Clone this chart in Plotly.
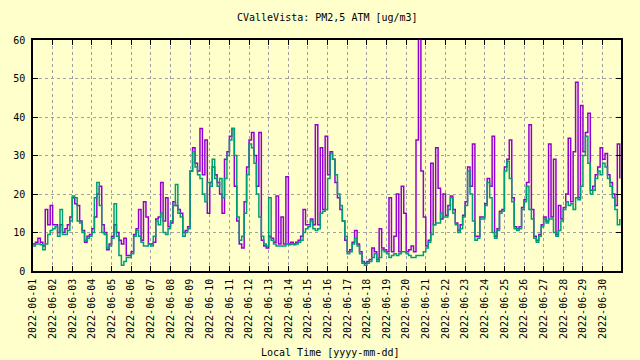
import pandas as pd
import plotly.graph_objects as go

title_text = "CValleVista: PM2,5 ATM [ug/m3]"
x_title = "Local Time [yyyy-mm-dd]"
start_time = "2022-06-01 00:00"
end_time = "2022-06-30 22:30"
sample_freq = "3h"

# Channel A (purple) — 3-hourly readings, one row per day (06-01 .. 06-30)
pm_a = [
    7, 7.5, 8.5, 7.5, 6.5, 16, 12, 17,
    12, 12, 10, 12, 10, 11, 12, 14,
    19, 17.5, 17, 13, 10.5, 7.5, 9, 9.5,
    11, 14, 20, 22, 12, 10, 5.5, 7,
    9, 12, 10, 8, 7, 8.5, 4, 4,
    5, 9.5, 11, 16, 8, 18, 14, 7,
    7, 7.5, 13.5, 14, 23, 13, 19, 11.5,
    12.5, 18, 17, 16, 15, 10, 10.5, 11.5,
    26, 32, 28, 26, 37, 25, 34, 15,
    23, 27, 25, 23, 20, 15, 29, 31,
    35, 37, 22, 13, 7, 6, 18, 27,
    34, 36, 30, 22, 36, 8, 6.5, 6,
    9, 8.5, 7.5, 19.5, 7, 14, 7, 24.5,
    7, 7.5, 7, 7.5, 8, 9, 16, 12,
    12, 13.5, 12, 38, 12, 32, 16, 35,
    25, 31, 29, 23, 19, 16, 13, 8,
    5, 5.5, 7.5, 10.5, 7, 5, 2.5, 2,
    2.5, 3, 6, 5, 3, 11, 6, 5.5,
    5, 19, 5, 9, 20, 5, 22, 15,
    5, 5.5, 6.5, 5, 34, 62, 26, 14,
    6.5, 8, 28, 12, 32, 21.5, 13.5, 20,
    14.5, 17, 19.5, 16, 12.5, 10.5, 12, 14.5,
    18, 27, 22, 33, 9, 9, 14, 14,
    17.5, 24, 22, 35, 9, 11, 15.5, 16,
    27, 29, 34, 19, 11.5, 11, 11.5, 16.5,
    18.5, 23, 38, 16, 9, 8, 9.5, 12,
    14, 13, 33, 14, 29, 9.5, 17, 13.5,
    16.5, 20, 34.5, 18, 31, 49, 19, 43,
    31, 36, 41, 21, 22, 25, 27, 32,
    29, 30.5, 25, 23, 20, 17, 33, 24,
]

# Channel B (teal) — 3-hourly readings, one row per day
pm_b = [
    6.5, 7, 7, 6.8, 5.5, 7, 9.5, 10.5,
    11, 11.5, 9, 16, 9.5, 9.5, 10.5, 13,
    19.5, 19, 13, 12.5, 10, 8, 8.5, 9,
    10, 19, 23, 17, 10, 9.5, 6, 6.5,
    8.5, 17.5, 9, 4, 1.5, 2.5, 3.5, 3.5,
    4.5, 9, 10.5, 9, 7.5, 6.5, 6.5, 7,
    6.5, 9, 13, 12, 15, 10, 9.5, 11,
    13, 17, 22.5, 15, 14, 9, 10, 11,
    26, 31, 27, 25, 24, 20, 18, 23,
    22, 29, 24, 22, 24, 19, 24, 30,
    34, 37, 30, 14, 8, 9, 15, 25,
    33, 32, 28, 20, 14, 9, 7, 6.5,
    19, 8, 7, 6.5, 6.5, 6.5, 6.5, 7,
    6.8, 7, 6.8, 7, 7.5, 8, 10, 11,
    11.5, 13, 11, 10.5, 11, 15, 15.5, 16,
    24, 30.5, 29, 25, 20, 17, 13, 9,
    4.5, 5, 7, 8.5, 6.5, 4.5, 2, 1.5,
    2, 2.5, 3.5, 4.5, 2.5, 3.5, 5.5, 5,
    4.5, 3.5, 4, 4.5, 4, 4.5, 5, 5,
    4.5, 4, 3.5, 3.5, 4, 4, 4, 5,
    6, 7.5, 9.5, 12, 12.5, 12.5, 15, 14,
    14, 16, 19, 15, 12, 10, 11, 14,
    17, 26, 20, 13, 8, 8.5, 13.5, 13.5,
    17, 23, 19, 10, 8.5, 10.5, 15, 15.5,
    26, 28.5, 24, 18, 11, 10.5, 11, 16,
    18, 22, 16, 13.5, 8.5, 7.5, 9, 11.5,
    13.5, 12.5, 13.5, 13.5, 10, 9, 10.5, 13,
    16, 18, 17, 17.5, 16, 19, 18.5, 22,
    30, 35, 28, 20, 21, 24, 26, 25,
    28, 27, 24, 22, 19, 16, 12, 13.5,
]

tick_days = pd.date_range("2022-06-01", "2022-06-30", freq="D")
tick_labels = [d.strftime("%Y-%m-%d") for d in tick_days]
y_ticks = [0, 10, 20, 30, 40, 50, 60]

times = pd.date_range(start_time, periods=len(pm_b), freq=sample_freq)

BG = "#ffffcc"
FONT = "DejaVu Sans Mono"

fig = go.Figure()
fig.add_trace(go.Scatter(x=times, y=pm_a, mode="lines", line_shape="hv",
                         line=dict(color="#9400d3", width=1.5), showlegend=False))
fig.add_trace(go.Scatter(x=times, y=pm_b, mode="lines", line_shape="hv",
                         line=dict(color="#009e73", width=1.5), showlegend=False))

fig.update_layout(
    width=640, height=360,
    margin=dict(l=33, r=19, t=40, b=89, autoexpand=False),
    paper_bgcolor=BG, plot_bgcolor=BG,
    font=dict(family=FONT, size=10, color="black"),
    showlegend=False,
    annotations=[
        dict(text=title_text, xref="paper", yref="paper", x=0.5, y=(271 - 18) / 231,
             showarrow=False, xanchor="center", yanchor="middle",
             font=dict(family=FONT, size=10, color="black")),
        dict(text=x_title, xref="paper", yref="paper", x=(330 - 33) / 588, y=(271 - 352) / 231,
             showarrow=False, xanchor="center", yanchor="middle",
             font=dict(family=FONT, size=10, color="black")),
    ],
)
fig.update_xaxes(
    type="date", range=[start_time, end_time],
    tickvals=tick_days, ticktext=tick_labels, tickangle=-90,
    ticks="inside", ticklen=5, tickcolor="black", tickwidth=1,
    showline=True, linecolor="black", linewidth=1.5, mirror="ticks",
    showgrid=True, gridcolor="#a0a0a0", gridwidth=1, griddash="3px,3px",
    zeroline=False, tickfont=dict(family=FONT, size=10, color="black"),
    ticklabelstandoff=2,
)
fig.update_yaxes(
    range=[0, 60], tickvals=y_ticks,
    ticks="inside", ticklen=5, tickcolor="black", tickwidth=1,
    showline=True, linecolor="black", linewidth=1.5, mirror="ticks",
    showgrid=True, gridcolor="#a0a0a0", gridwidth=1, griddash="3px,3px",
    zeroline=False, tickfont=dict(family=FONT, size=10, color="black"),
    ticklabelstandoff=4,
)

fig.write_html(
    "out.html",
    config={"displayModeBar": False},
    post_script="document.body.style.margin='0';document.body.style.background='" + BG + "';",
)
